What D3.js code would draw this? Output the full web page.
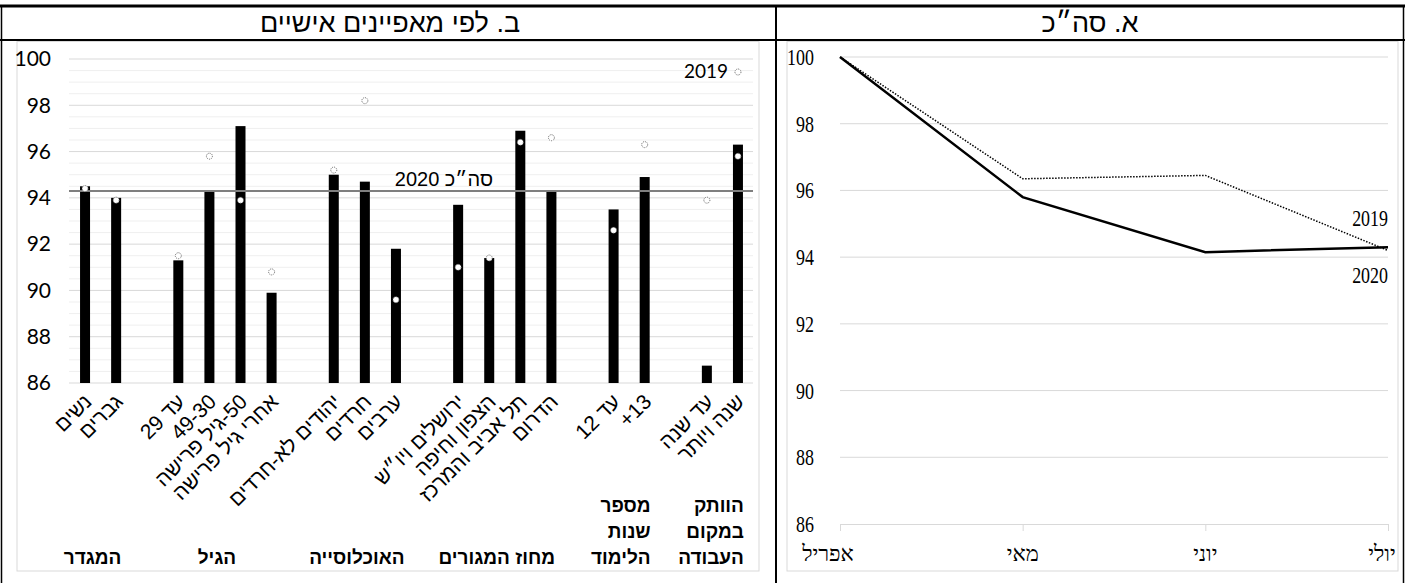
<!DOCTYPE html>
<html>
<head>
<meta charset="utf-8">
<script src="https://cdn.jsdelivr.net/npm/d3@7"></script>
<style>
  body { margin: 0; background: #fff; }
  svg { display: block; }
</style>
</head>
<body>
<svg id="chart" width="1405" height="583"></svg>
<script>
// ── Panel B data: by personal characteristics ('' = gap between groups) ──
const categories = ['נשים', 'גברים', '', 'עד 29', '49-30', '50-גיל פרישה', 'אחרי גיל פרישה', '',
  'יהודים לא-חרדים', 'חרדים', 'ערבים', '', 'ירושלים ויו״ש', 'הצפון וחיפה', 'תל אביב והמרכז', 'הדרום', '',
  'עד 12', '13+', '', 'עד שנה', 'שנה ויותר'];
const values2020 = [94.5, 94.0, null, 91.3, 94.3, 97.1, 89.9, null, 95.0, 94.7, 91.8, null,
  93.7, 91.4, 96.9, 94.3, null, 93.5, 94.9, null, 86.75, 96.3];
const values2019 = [94.4, 93.9, null, 91.5, 95.8, 93.9, 90.8, null, 95.2, 98.2, 89.6, null,
  91.0, 91.4, 96.4, 96.6, null, 92.6, 96.3, null, 93.9, 95.8];
const groupLabels = [['המגדר'], ['הגיל'], ['האוכלוסייה'], ['מחוז המגורים'], ['מספר', 'שנות', 'הלימוד'], ['הוותק', 'במקום', 'העבודה']];
const groupFirst = [0, 3, 8, 12, 17, 20];
const groupLast  = [1, 6, 10, 15, 18, 21];
const totalLine2020 = 94.3;
const yTicksB = d3.range(86, 100.01, 2);

// ── Panel A data: total ──
const months = ['אפריל', 'מאי', 'יוני', 'יולי'];
const total2019 = [100, 96.35, 96.45, 94.2];
const total2020 = [100, 95.8, 94.15, 94.3];
const yTicksA = d3.range(86, 100.01, 2);

const svg = d3.select('#chart');
const heb = "'Liberation Sans', 'DejaVu Sans', sans-serif";
const serif = "'Liberation Serif', 'DejaVu Serif', serif";
const num = "Lato, 'Liberation Sans', sans-serif";

// ── Table frame ──
svg.append('rect').attr('width', 1405).attr('height', 583).attr('fill', '#fff');
svg.append('line').attr('x1', 0).attr('x2', 1405).attr('y1', 6).attr('y2', 6)
  .attr('stroke', '#000').attr('stroke-width', 3);
svg.append('line').attr('x1', 0).attr('x2', 1405).attr('y1', 40).attr('y2', 40)
  .attr('stroke', '#000').attr('stroke-width', 2);
[1.5, 776, 1403.5].forEach(x => {
  svg.append('line').attr('x1', x).attr('x2', x).attr('y1', 6).attr('y2', 583)
    .attr('stroke', '#000').attr('stroke-width', x === 776 ? 2 : 1.5);
});
svg.append('text').attr('x', 390).attr('y', 32)
  .attr('direction', 'rtl').attr('text-anchor', 'middle')
  .style('font-family', heb).style('font-size', '27px')
  .text('ב. לפי מאפיינים אישיים');
svg.append('text').attr('x', 1090).attr('y', 32)
  .attr('direction', 'rtl').attr('text-anchor', 'middle')
  .style('font-family', heb).style('font-size', '27px')
  .text('א. סה״כ');

// chart area boxes
svg.append('rect').attr('x', 17).attr('y', 41.5).attr('width', 742).attr('height', 529.5)
  .attr('fill', 'none').attr('stroke', '#d9d9d9');
svg.append('rect').attr('x', 787).attr('y', 41.5).attr('width', 611).attr('height', 529.5)
  .attr('fill', 'none').attr('stroke', '#d9d9d9');

// ── Panel B: bars ──
const gB = svg.append('g');
const xB = d3.scalePoint().domain(d3.range(categories.length)).range([69.5, 753.5]).padding(0.5);
const yB = d3.scaleLinear().domain([86, 100]).range([383, 59]);
const barW = 10;

// gridlines every 0.5
gB.selectAll('.grid').data(d3.range(86.5, 100.01, 0.5)).enter().append('line')
  .attr('x1', 69).attr('x2', 753)
  .attr('y1', d => yB(d)).attr('y2', d => yB(d))
  .attr('stroke', d => d % 2 === 0 ? '#d9d9d9' : '#efefef')
  .attr('stroke-width', 1);
gB.append('line').attr('x1', 69).attr('x2', 753).attr('y1', yB(86)).attr('y2', yB(86))
  .attr('stroke', '#d9d9d9');

gB.selectAll('.ytick').data(yTicksB).enter().append('text')
  .attr('x', 51).attr('y', d => yB(d)).attr('dy', '0.35em')
  .attr('text-anchor', 'end')
  .style('font-family', num).style('font-size', '21px').attr('fill', '#000')
  .text(d => d);

const barData = values2020.map((v, i) => ({ i, v })).filter(d => d.v !== null);
gB.selectAll('.bar').data(barData).enter().append('rect')
  .attr('x', d => xB(d.i) - barW / 2)
  .attr('y', d => yB(d.v))
  .attr('width', barW)
  .attr('height', d => yB(86) - yB(d.v))
  .attr('fill', '#000');

// total 2020 reference line
gB.append('line').attr('x1', 69).attr('x2', 753)
  .attr('y1', yB(totalLine2020)).attr('y2', yB(totalLine2020))
  .attr('stroke', '#7f7f7f').attr('stroke-width', 2);
gB.append('text').attr('x', 493).attr('y', yB(totalLine2020) - 5)
  .attr('direction', 'rtl').attr('text-anchor', 'start')
  .style('font-family', heb).style('font-size', '20px')
  .text('סה״כ 2020');

// 2019 markers
const dotData = values2019.map((v, i) => ({ i, v })).filter(d => d.v !== null);
gB.selectAll('.dot').data(dotData).enter().append('circle')
  .attr('cx', d => xB(d.i)).attr('cy', d => yB(d.v)).attr('r', 3)
  .attr('fill', '#fff').attr('stroke', '#666').attr('stroke-width', 1)
  .attr('stroke-dasharray', '1,1');

// legend for 2019 marker
gB.append('circle').attr('cx', xB(categories.length - 1)).attr('cy', 72).attr('r', 3)
  .attr('fill', '#fff').attr('stroke', '#666').attr('stroke-width', 1)
  .attr('stroke-dasharray', '1,1');
gB.append('text').attr('x', 728).attr('y', 78)
  .attr('text-anchor', 'end')
  .style('font-family', num).style('font-size', '19px')
  .text('2019');

// rotated category labels
gB.selectAll('.cat').data(categories.map((c, i) => ({ c, i })).filter(d => d.c)).enter()
  .append('text')
  .attr('transform', d => `translate(${xB(d.i) + 8},${yB(86) + 20}) rotate(-45)`)
  .attr('direction', 'rtl').attr('text-anchor', 'start')
  .style('font-family', heb).style('font-size', '21px')
  .text(d => d.c);

// group labels
groupLabels.forEach((lines, g) => {
  const x0 = xB(groupFirst[g]), x1 = xB(groupLast[g]);
  const t = gB.append('text')
    .attr('direction', 'rtl')
    .style('font-family', heb).style('font-size', '19px').style('font-weight', 'bold');
  if (lines.length === 1) {
    t.attr('x', (x0 + x1) / 2 - 8).attr('y', 564).attr('text-anchor', 'middle').text(lines[0]);
  } else {
    lines.forEach((ln, k) => {
      t.append('tspan').attr('x', x1 + 6).attr('y', 564 - (lines.length - 1 - k) * 26)
        .attr('text-anchor', 'start').text(ln);
    });
  }
});

// ── Panel A: total line chart ──
const gA = svg.append('g');
const xA = d3.scalePoint().domain(months).range([840, 1388]);
const yA = d3.scaleLinear().domain([86, 100]).range([524, 57]);

gA.selectAll('.grid').data(yTicksA.filter(d => d > 86)).enter().append('line')
  .attr('x1', xA.range()[0]).attr('x2', xA.range()[1])
  .attr('y1', d => yA(d)).attr('y2', d => yA(d))
  .attr('stroke', '#d9d9d9');

const axisA = gA.append('g').attr('transform', `translate(0,${yA(86)})`)
  .call(d3.axisBottom(xA).tickSize(7).tickSizeOuter(0).tickFormat(''));
axisA.select('.domain').attr('stroke', '#d9d9d9');
axisA.selectAll('line').attr('stroke', '#d9d9d9');

// condensed serif numbers
gA.selectAll('.ytick').data(yTicksA).enter().append('text')
  .attr('transform', d => `translate(814,${yA(d)}) scale(0.78,1)`)
  .attr('dy', '0.35em')
  .attr('text-anchor', 'end')
  .style('font-family', serif).style('font-size', '23px')
  .text(d => d);

gA.selectAll('.xlab').data(months).enter().append('text')
  .attr('x', (d, i) => xA(d) + (i === 0 ? -12 : i === months.length - 1 ? -6 : 0)).attr('y', 561)
  .attr('direction', 'rtl').attr('text-anchor', 'middle')
  .style('font-family', serif).style('font-size', '22px')
  .text(d => d);

const line = d3.line().x((d, i) => xA(months[i])).y(d => yA(d));
gA.append('path').datum(total2019)
  .attr('fill', 'none').attr('stroke', '#000').attr('stroke-width', 1.5)
  .attr('stroke-dasharray', '1.5,1.5')
  .attr('d', line);
gA.append('path').datum(total2020)
  .attr('fill', 'none').attr('stroke', '#000').attr('stroke-width', 2.5)
  .attr('d', line);

gA.append('text').attr('transform', `translate(${xA(months[3])},226) scale(0.78,1)`)
  .attr('text-anchor', 'end')
  .style('font-family', serif).style('font-size', '23px').text('2019');
gA.append('text').attr('transform', `translate(${xA(months[3])},283) scale(0.78,1)`)
  .attr('text-anchor', 'end')
  .style('font-family', serif).style('font-size', '23px').text('2020');
</script>
</body>
</html>
